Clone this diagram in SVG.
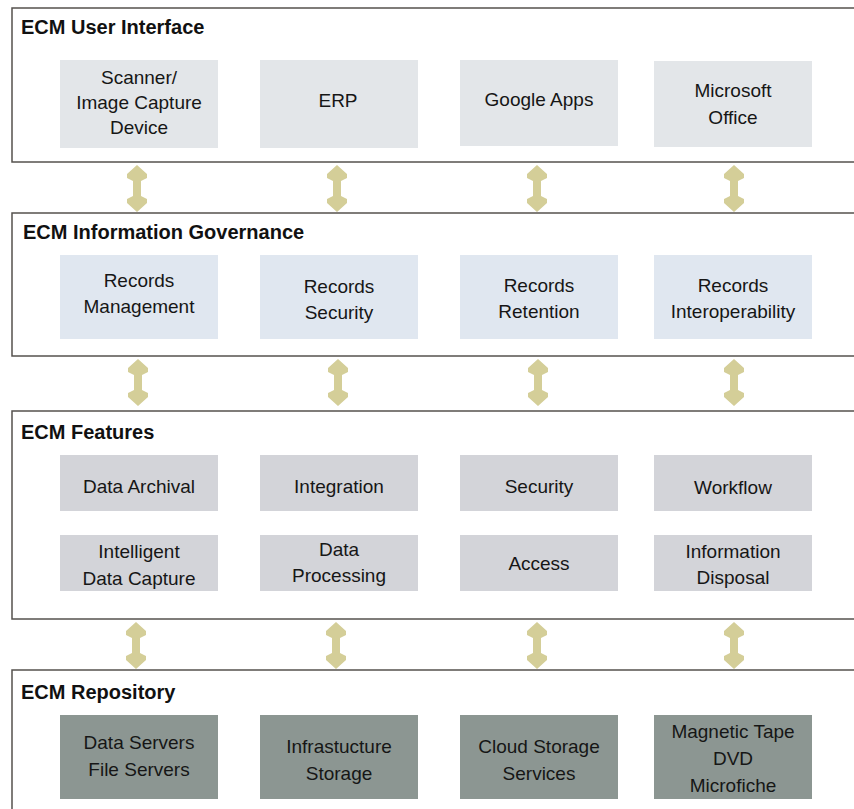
<svg xmlns="http://www.w3.org/2000/svg" width="854" height="809" viewBox="0 0 854 809">
<defs>
<style>
.frame{fill:#ffffff;stroke:#55524e;stroke-width:1.5}
.title{font-family:"Liberation Sans",Arial,sans-serif;font-weight:bold;font-size:20px;fill:#111111}
.lbl{font-family:"Liberation Sans",Arial,sans-serif;font-size:19px;fill:#161616;text-anchor:middle}
.ui{fill:#e3e6e9}
.gov{fill:#e0e7f0}
.feat{fill:#d3d4d9}
.repo{fill:#8c9692}
.arr{fill:#d4ce98}
</style>
<polygon id="dbl" points="0,0 10,9 10,13 4,16 4,31 10,34 10,38 0,47 -10,38 -10,34 -4,31 -4,16 -10,13 -10,9"/>
</defs>
<rect width="854" height="809" fill="#ffffff"/>

<g id="layer-ui">
<rect class="frame" x="12" y="8" width="900" height="154"/>
<text class="title" x="21" y="34">ECM User Interface</text>
</g>
<g id="layer-gov">
<rect class="frame" x="12" y="213" width="900" height="143"/>
<text class="title" x="23" y="239">ECM Information Governance</text>
</g>
<g id="layer-feat">
<rect class="frame" x="12" y="411" width="900" height="208"/>
<text class="title" x="21" y="439">ECM Features</text>
</g>
<g id="layer-repo">
<rect class="frame" x="12" y="670" width="900" height="160"/>
<text class="title" x="21" y="699">ECM Repository</text>
</g>

<g id="node-scanner"><rect class="ui" x="60" y="60" width="158" height="88"/><text class="lbl" x="139" y="84">Scanner/</text><text class="lbl" x="139" y="109">Image Capture</text><text class="lbl" x="139" y="134">Device</text></g>
<g id="node-erp"><rect class="ui" x="260" y="60" width="158" height="88"/><text class="lbl" x="338" y="107">ERP</text></g>
<g id="node-google"><rect class="ui" x="460" y="60" width="158" height="86"/><text class="lbl" x="539" y="106">Google Apps</text></g>
<g id="node-msoffice"><rect class="ui" x="654" y="61" width="158" height="86"/><text class="lbl" x="733" y="97">Microsoft</text><text class="lbl" x="733" y="124">Office</text></g>

<g id="node-rec-mgmt"><rect class="gov" x="60" y="255" width="158" height="84"/><text class="lbl" x="139" y="287">Records</text><text class="lbl" x="139" y="313">Management</text></g>
<g id="node-rec-sec"><rect class="gov" x="260" y="255" width="158" height="84"/><text class="lbl" x="339" y="293">Records</text><text class="lbl" x="339" y="319">Security</text></g>
<g id="node-rec-ret"><rect class="gov" x="460" y="255" width="158" height="84"/><text class="lbl" x="539" y="292">Records</text><text class="lbl" x="539" y="318">Retention</text></g>
<g id="node-rec-interop"><rect class="gov" x="654" y="255" width="158" height="84"/><text class="lbl" x="733" y="292">Records</text><text class="lbl" x="733" y="318">Interoperability</text></g>

<g id="node-archival"><rect class="feat" x="60" y="455" width="158" height="56"/><text class="lbl" x="139" y="493">Data Archival</text></g>
<g id="node-integration"><rect class="feat" x="260" y="455" width="158" height="56"/><text class="lbl" x="339" y="493">Integration</text></g>
<g id="node-security"><rect class="feat" x="460" y="455" width="158" height="56"/><text class="lbl" x="539" y="493">Security</text></g>
<g id="node-workflow"><rect class="feat" x="654" y="455" width="158" height="56"/><text class="lbl" x="733" y="494">Workflow</text></g>
<g id="node-capture"><rect class="feat" x="60" y="535" width="158" height="56"/><text class="lbl" x="139" y="558">Intelligent</text><text class="lbl" x="139" y="585">Data Capture</text></g>
<g id="node-processing"><rect class="feat" x="260" y="535" width="158" height="56"/><text class="lbl" x="339" y="556">Data</text><text class="lbl" x="339" y="582">Processing</text></g>
<g id="node-access"><rect class="feat" x="460" y="535" width="158" height="56"/><text class="lbl" x="539" y="570">Access</text></g>
<g id="node-disposal"><rect class="feat" x="654" y="535" width="158" height="56"/><text class="lbl" x="733" y="558">Information</text><text class="lbl" x="733" y="584">Disposal</text></g>

<g id="node-servers"><rect class="repo" x="60" y="715" width="158" height="84"/><text class="lbl" x="139" y="749">Data Servers</text><text class="lbl" x="139" y="776">File Servers</text></g>
<g id="node-infra"><rect class="repo" x="260" y="715" width="158" height="84"/><text class="lbl" x="339" y="753">Infrastucture</text><text class="lbl" x="339" y="780">Storage</text></g>
<g id="node-cloud"><rect class="repo" x="460" y="715" width="158" height="84"/><text class="lbl" x="539" y="753">Cloud Storage</text><text class="lbl" x="539" y="780">Services</text></g>
<g id="node-media"><rect class="repo" x="654" y="715" width="158" height="84"/><text class="lbl" x="733" y="738">Magnetic Tape</text><text class="lbl" x="733" y="765">DVD</text><text class="lbl" x="733" y="792">Microfiche</text></g>

<g id="connectors" class="arr">
<use href="#dbl" x="137" y="165"/><use href="#dbl" x="337" y="165"/><use href="#dbl" x="537" y="165"/><use href="#dbl" x="734" y="165"/>
<use href="#dbl" x="138" y="359"/><use href="#dbl" x="338" y="359"/><use href="#dbl" x="538" y="359"/><use href="#dbl" x="734" y="359"/>
<use href="#dbl" x="136" y="622"/><use href="#dbl" x="336" y="622"/><use href="#dbl" x="537" y="622"/><use href="#dbl" x="734" y="622"/>
</g>
</svg>
